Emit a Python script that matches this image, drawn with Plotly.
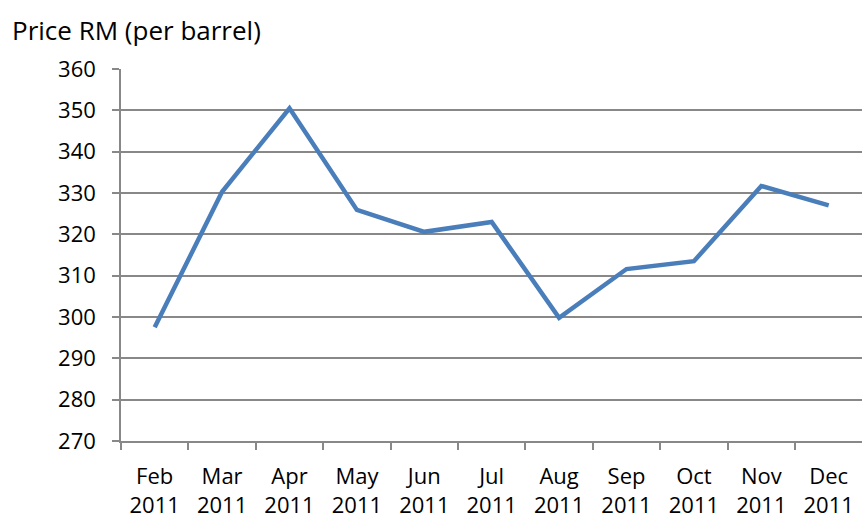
import plotly.graph_objects as go

months = ["Feb", "Mar", "Apr", "May", "Jun", "Jul", "Aug", "Sep", "Oct", "Nov", "Dec"]
years = ["2011"] * 11
prices = [297.5, 330.3, 350.5, 325.9, 320.6, 323.0, 299.8, 311.6, 313.5, 331.7, 327.0]
y_ticks = [270, 280, 290, 300, 310, 320, 330, 340, 350, 360]
title_text = "Price RM (per barrel)"

labels = [f"{m}<br>{y}" for m, y in zip(months, years)]

W, H = 862, 520
ml, mr, mt, mb = 121, 0, 69, 79
pw, ph = W - ml - mr, H - mt - mb

fig = go.Figure()
fig.add_trace(go.Scatter(
    x=labels, y=prices, mode="lines",
    line=dict(color="#4a7ebb", width=4.5),
    hoverinfo="skip",
))

grid = "#888888"
fnt = dict(family="Open Sans, Calibri, Carlito, sans-serif", size=22, color="#000000")

fig.update_layout(
    width=W, height=H,
    margin=dict(l=ml, r=mr, t=mt, b=mb, pad=0),
    paper_bgcolor="white", plot_bgcolor="white",
    showlegend=False,
    font=fnt,
    xaxis=dict(
        type="category",
        range=[-0.5, -0.5 + pw / 67.4],
        tickson="boundaries",
        ticks="outside", ticklen=7, tickcolor=grid, tickwidth=1.5,
        showline=True, linecolor=grid, linewidth=1.5,
        showgrid=False, zeroline=False,
        tickfont=fnt,
        ticklabelstandoff=15,
    ),
    yaxis=dict(
        range=[270, 360],
        tickvals=y_ticks,
        ticks="outside", ticklen=7, tickcolor=grid, tickwidth=1.5,
        showline=True, linecolor=grid, linewidth=1.5,
        showgrid=True, gridcolor=grid, gridwidth=1.5,
        zeroline=False,
        tickfont=fnt,
        ticklabelstandoff=12,
    ),
    annotations=[dict(
        text=title_text, xref="paper", yref="paper",
        x=(10 - ml) / pw, y=1 + (mt - 30) / ph,
        xanchor="left", yanchor="middle", showarrow=False,
        font=dict(family=fnt["family"], size=26, color="#000000"),
    )],
)

fig.write_html("out.html")
